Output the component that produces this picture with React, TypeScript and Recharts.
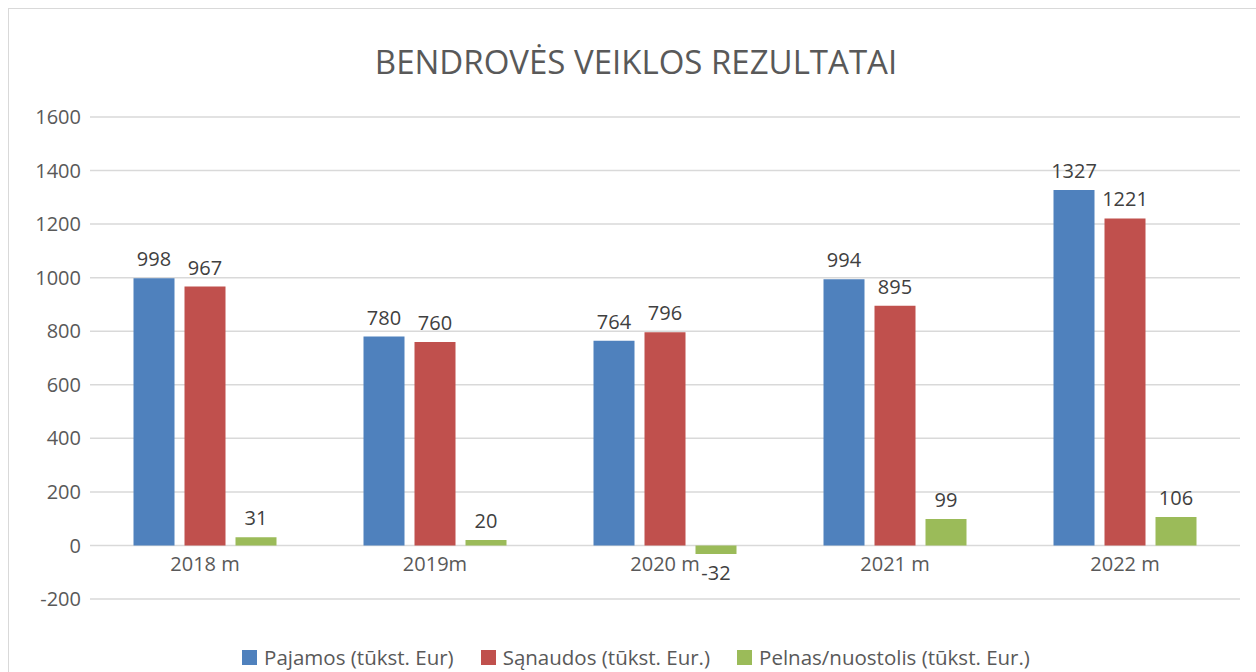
import React from "react";
import { BarChart, Bar, XAxis, YAxis, CartesianGrid, LabelList } from "recharts";

const categories = ["2018 m", "2019m", "2020 m", "2021 m", "2022 m"];
const pajamos = [998, 780, 764, 994, 1327];
const sanaudos = [967, 760, 796, 895, 1221];
const pelnas = [31, 20, -32, 99, 106];
const yTicks = [-200, 0, 200, 400, 600, 800, 1000, 1200, 1400, 1600];

const seriesNames = [
	"Pajamos (tūkst. Eur)",
	"Sąnaudos (tūkst. Eur.)",
	"Pelnas/nuostolis (tūkst. Eur.)",
];
const colors = ["#4F81BD", "#C0504D", "#9BBB59"];

const data = categories.map((name, i) => ({
	name,
	pajamos: pajamos[i],
	sanaudos: sanaudos[i],
	pelnas: pelnas[i],
}));

const FONT = '"Open Sans", sans-serif';

// category labels sit just under the zero line, not under the plot bottom
const CategoryTick = (props: any) => {
	const { x, y, payload } = props;
	return (
		<text x={x} y={y - 28} textAnchor="middle" fill="#595959" fontSize={20} fontFamily={FONT}>
			{payload.value}
		</text>
	);
};

const App: React.FC = () => {
	return (
		<div
			style={{
				position: "fixed",
				left: 0,
				top: 0,
				width: 1256,
				height: 672,
				overflow: "hidden",
				background: "#fff",
			}}
		>
			<div
				style={{
					position: "absolute",
					left: 8,
					top: 8,
					width: 1254,
					height: 680,
					border: "1px solid #d9d9d9",
					fontFamily: FONT,
					background: "#fff",
				}}
			>
				<div
					style={{
						position: "absolute",
						top: 36,
						left: 0,
						width: "100%",
						textAlign: "center",
						fontSize: 33,
						lineHeight: 1,
						color: "#595959",
					}}
				>
					BENDROVĖS VEIKLOS REZULTATAI
				</div>

				<BarChart
					width={1254}
					height={680}
					data={data}
					margin={{ top: 108, right: 23, bottom: 60, left: 0 }}
					barGap={10}
					barCategoryGap={43.5}
				>
					<CartesianGrid vertical={false} stroke="#d9d9d9" strokeWidth={1.5} />
					<XAxis
						dataKey="name"
						height={30}
						axisLine={false}
						tickLine={false}
						tickSize={0}
						tickMargin={0}
						tick={<CategoryTick />}
						interval={0}
					/>
					<YAxis
						width={81}
						domain={[-200, 1600]}
						ticks={yTicks}
						axisLine={false}
						tickLine={false}
						tickSize={0}
						tickMargin={9}
						tick={{ fill: "#595959", fontSize: 20, fontFamily: FONT }}
					/>
					<Bar dataKey="pajamos" fill={colors[0]} isAnimationActive={false}>
						<LabelList dataKey="pajamos" position="top" offset={12} fill="#404040" fontSize={20} fontFamily={FONT} />
					</Bar>
					<Bar dataKey="sanaudos" fill={colors[1]} isAnimationActive={false}>
						<LabelList dataKey="sanaudos" position="top" offset={12} fill="#404040" fontSize={20} fontFamily={FONT} />
					</Bar>
					<Bar dataKey="pelnas" fill={colors[2]} isAnimationActive={false}>
						<LabelList dataKey="pelnas" position="top" offset={12} fill="#404040" fontSize={20} fontFamily={FONT} />
					</Bar>
				</BarChart>

				<div
					style={{
						position: "absolute",
						top: 632,
						left: 0,
						width: "100%",
						display: "flex",
						justifyContent: "center",
						gap: 27,
						fontSize: 20.5,
						color: "#595959",
						lineHeight: "32px",
					}}
				>
					{seriesNames.map((n, i) => (
						<div key={n} style={{ display: "flex", alignItems: "center" }}>
							<span
								style={{
									display: "inline-block",
									width: 15,
									height: 15,
									background: colors[i],
									marginRight: 7,
								}}
							/>
							{n}
						</div>
					))}
				</div>
			</div>
		</div>
	);
};

export default App;
